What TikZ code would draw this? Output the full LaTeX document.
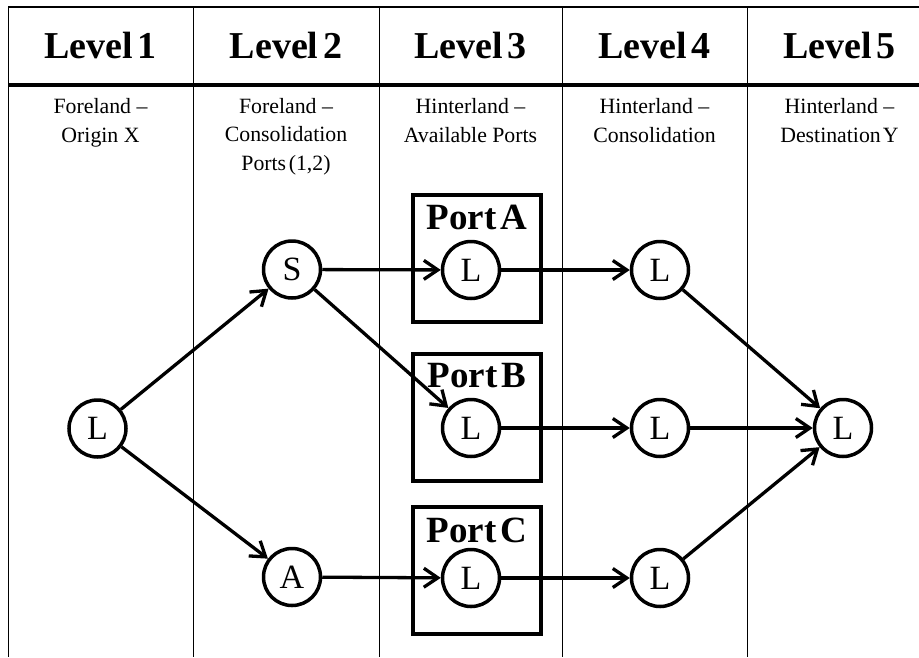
\documentclass[tikz,border=0pt]{standalone}
\usepackage{fontspec}
\setmainfont{Liberation Serif}
\usetikzlibrary{arrows.meta}
\begin{document}
\begin{tikzpicture}[x=1pt,y=-1pt,
  hdr/.style={font=\fontsize{38}{40}\selectfont\bfseries, anchor=base, inner sep=0},
  sub/.style={font=\fontsize{21.8}{28.5}\selectfont, align=center, anchor=base, inner sep=0},
  nd/.style={circle, draw, line width=3.5pt, minimum size=57pt, inner sep=0, font=\fontsize{34}{36}\selectfont},
  portbox/.style={draw, line width=4pt, minimum width=128pt, minimum height=127pt, inner sep=0},
  portlbl/.style={font=\fontsize{37}{39}\selectfont\bfseries, anchor=base, inner sep=0},
  flow/.style={line width=3.3pt, -{Straight Barb[length=14pt,width=19pt]}},
  gridline/.style={line width=1pt}
]
\useasboundingbox (0,0) rectangle (919,657);
% frame
\draw[line width=2pt] (8,7) -- (919,7);
\draw[line width=4pt] (8,85) -- (919,85);
\foreach \xx in {8,193,379,562,747}{\draw[gridline] (\xx,7) -- (\xx,657);}
% headers
\node[hdr] (h1) at (100.5,58) {Level\kern0.12em 1};
\node[hdr] (h2) at (286,58) {Level\kern0.12em 2};
\node[hdr] (h3) at (470.5,58) {Level\kern0.12em 3};
\node[hdr] (h4) at (654.5,58) {Level\kern0.12em 4};
\node[hdr] (h5) at (839.5,58) {Level\kern0.12em 5};
% subtitles (anchor base = last line's baseline)
\node[sub] (s1) at (100.5,142) {Foreland --\\Origin X};
\node[sub] (s2) at (286,170) {Foreland --\\Consolidation\\Ports\kern0.12em(1,2)};
\node[sub] (s3) at (470.5,142) {Hinterland --\\Available Ports};
\node[sub] (s4) at (654.5,142) {Hinterland --\\Consolidation};
\node[sub] (s5) at (839.5,142) {Hinterland --\\Destination\kern0.1em Y};
% port boxes
\node[portbox] (pa) at (477,258) {};
\node[portbox] (pb) at (477,417) {};
\node[portbox] (pc) at (477,570.5) {};
\node[portlbl] (pal) at (477,229) {Port\kern0.12em A};
\node[portlbl] (pbl) at (477,387) {Port\kern0.12em B};
\node[portlbl] (pcl) at (477,542) {Port\kern0.12em C};
% nodes
\node[nd] (o) at (97.5,428.5) {L};
\node[nd] (s) at (292,269.5) {S};
\node[nd] (a) at (292,577) {A};
\node[nd] (la) at (471,270) {L};
\node[nd] (lb) at (471,428) {L};
\node[nd] (lc) at (471,578) {L};
\node[nd] (ha) at (660,270) {L};
\node[nd] (hb) at (660,428) {L};
\node[nd] (hc) at (660,578) {L};
\node[nd] (d) at (843,428) {L};
% flows
\draw[flow] (o) -- (s);
\draw[flow] (o) -- (a);
\draw[flow] (s) -- (la);
\draw[flow] (s) -- (lb);
\draw[flow] (a) -- (lc);
\draw[flow] (la) -- (ha);
\draw[flow] (lb) -- (hb);
\draw[flow] (lc) -- (hc);
\draw[flow] (ha) -- (d);
\draw[flow] (hb) -- (d);
\draw[flow] (hc) -- (d);
\end{tikzpicture}
\end{document}
